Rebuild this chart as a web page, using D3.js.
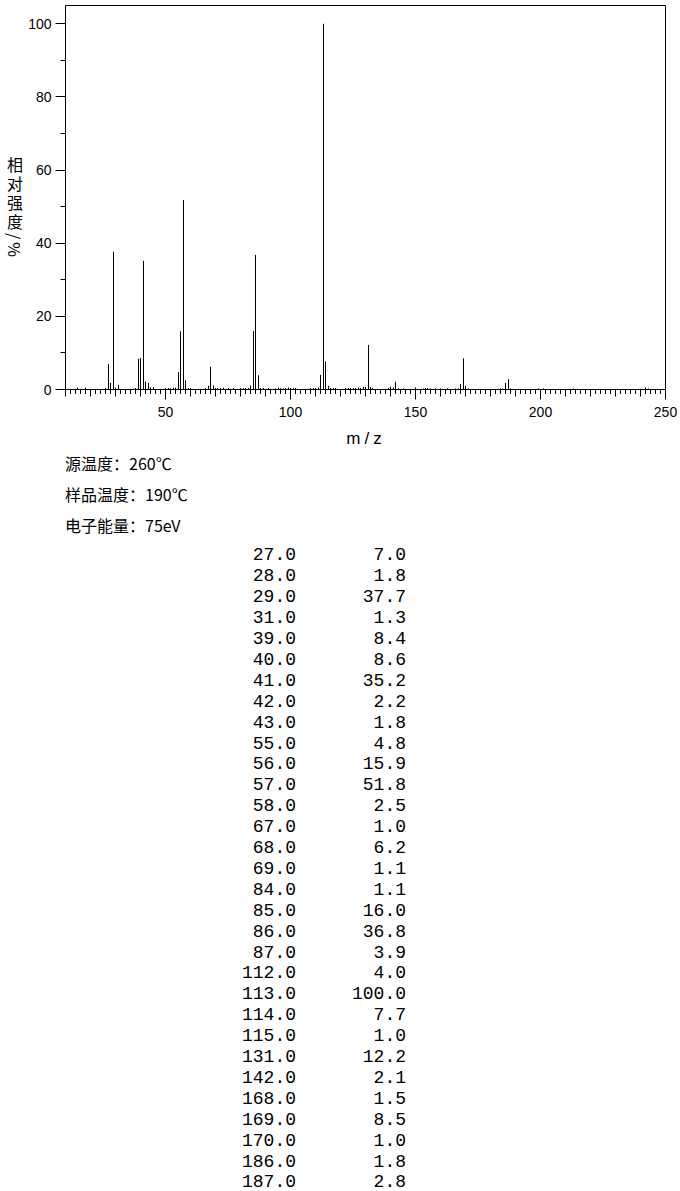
<!DOCTYPE html>
<html>
<head>
<meta charset="utf-8">
<script src="https://cdn.jsdelivr.net/npm/d3@7"></script>
<style>
  body { margin: 0; background: #fff; }
  svg { display: block; }
</style>
</head>
<body>
<script>
// DATA
var peakMz = [27, 28, 29, 31, 39, 40, 41, 42, 43, 55, 56, 57, 58, 67, 68, 69, 84, 85, 86, 87,
  112, 113, 114, 115, 131, 142, 168, 169, 170, 186, 187];
var peakInt = [7.0, 1.8, 37.7, 1.3, 8.4, 8.6, 35.2, 2.2, 1.8, 4.8, 15.9, 51.8, 2.5, 1.0, 6.2, 1.1, 1.1, 16.0, 36.8, 3.9,
  4.0, 100.0, 7.7, 1.0, 12.2, 2.1, 1.5, 8.5, 1.0, 1.8, 2.8];

// small peaks under 1% seen on the plot (not in the table)
var minorMz = [15, 18, 26, 30, 37, 38, 44, 45, 50, 51, 52, 53, 54, 59, 60, 66, 70, 71, 72, 73, 75, 77,
  80, 81, 82, 83, 88, 89, 91, 94, 95, 96, 97, 98, 99, 100, 101, 102, 108, 109, 110, 111, 116, 117, 118,
  122, 123, 124, 125, 126, 127, 128, 129, 130, 132, 133, 139, 140, 141, 143, 145, 150, 153, 154, 155,
  156, 158, 160, 163, 166, 167, 171, 184, 185, 188, 199, 201, 213, 242, 243];
var minorInt = [0.5, 0.5, 0.4, 0.5, 0.2, 0.4, 0.6, 0.6, 0.4, 0.4, 0.3, 0.5, 0.5, 0.4, 0.4, 0.4, 0.4, 0.4, 0.4, 0.5, 0.4, 0.4,
  0.4, 0.4, 0.4, 0.4, 0.4, 0.4, 0.4, 0.3, 0.55, 0.4, 0.3, 0.4, 0.55, 0.4, 0.4, 0.4, 0.4, 0.4, 0.4, 0.55, 0.4, 0.4, 0.4,
  0.4, 0.4, 0.4, 0.4, 0.4, 0.55, 0.4, 0.75, 0.75, 0.75, 0.4, 0.4, 0.75, 0.55, 0.3, 0.3, 0.55, 0.3, 0.4, 0.4,
  0.3, 0.3, 0.3, 0.3, 0.3, 0.3, 0.3, 0.3, 0.3, 0.3, 0.3, 0.3, 0.3, 0.55, 0.3];

var xTickLabels = [50, 100, 150, 200, 250];
var yTickLabels = [0, 20, 40, 60, 80, 100];
var infoLines = ["源温度：260℃", "样品温度：190℃", "电子能量：75eV"];

// svg
var svg = d3.select("body").append("svg")
    .attr("width", 680)
    .attr("height", 1191);

const plot = {left: 65.5, right: 665.5, top: 5.5, bottom: 389.5};

// scales
const x = d3.scaleLinear().domain([10, 250]).range([plot.left, plot.right]);
const y = d3.scaleLinear().domain([0, 105]).range([plot.bottom, plot.top]);

const sans = "'Liberation Sans', Arial, sans-serif";

// frame (left, top, right)
svg.append("path")
    .attr("d", "M" + plot.left + "," + plot.bottom + "V" + plot.top + "H" + plot.right + "V" + plot.bottom)
    .attr("fill", "none").attr("stroke", "#000").attr("stroke-width", 1);

// x axis: small ticks every 2, medium every 10, long every 50
const xAxis = svg.append("g").attr("transform", "translate(0," + plot.bottom + ")");
xAxis.append("path")
    .attr("d", "M" + (plot.left - 10) + ",0H" + plot.right)
    .attr("stroke", "#000").attr("shape-rendering", "crispEdges");
xAxis.selectAll("line").data(d3.range(10, 251, 2)).enter().append("line")
    .attr("x1", d => Math.round(x(d) - 0.5) + 0.5)
    .attr("x2", d => Math.round(x(d) - 0.5) + 0.5)
    .attr("y1", 0)
    .attr("y2", d => d % 50 === 0 ? 10 : (d % 10 === 0 ? 7 : 4.5))
    .attr("stroke", "#000");
xAxis.selectAll("text").data(xTickLabels).enter().append("text")
    .attr("x", d => x(d))
    .attr("y", 27)
    .attr("text-anchor", "middle")
    .attr("font-family", sans).attr("font-size", 14)
    .text(d => d);

svg.append("text")
    .attr("x", 366).attr("y", 444)
    .attr("text-anchor", "middle")
    .attr("font-family", sans).attr("font-size", 17)
    .attr("letter-spacing", 4)
    .text("m/z");

// y axis: long ticks every 20, short every 10
const yAxis = svg.append("g");
yAxis.selectAll("line").data(d3.range(0, 101, 10)).enter().append("line")
    .attr("x1", d => d % 20 === 0 ? plot.left - 10 : plot.left - 5)
    .attr("x2", plot.left)
    .attr("y1", d => Math.round(y(d) - 0.5) + 0.5)
    .attr("y2", d => Math.round(y(d) - 0.5) + 0.5)
    .attr("stroke", "#000");
yAxis.selectAll("text").data(yTickLabels).enter().append("text")
    .attr("x", plot.left - 14)
    .attr("y", d => y(d))
    .attr("dy", "0.36em")
    .attr("text-anchor", "end")
    .attr("font-family", sans).attr("font-size", 14)
    .text(d => d);

svg.append("text")
    .attr("x", 15).attr("y", 157)
    .attr("writing-mode", "vertical-rl")
    .attr("text-orientation", "mixed")
    .attr("letter-spacing", 3)
    .attr("font-family", "'Noto Sans CJK SC', sans-serif").attr("font-size", 16)
    .text("相对强度/%");

// peaks
const peaks = svg.append("g").attr("stroke", "#000").attr("stroke-width", 1);
var allPeaks = minorMz.map((m, i) => ({mz: m, v: minorInt[i]}))
    .concat(peakMz.map((m, i) => ({mz: m, v: peakInt[i]})));
peaks.selectAll("line").data(allPeaks).enter().append("line")
    .attr("x1", d => Math.round(x(d.mz) - 0.5) + 0.5)
    .attr("x2", d => Math.round(x(d.mz) - 0.5) + 0.5)
    .attr("y1", plot.bottom)
    .attr("y2", d => y(d.v));

// info lines
svg.append("g").selectAll("text").data(infoLines).enter().append("text")
    .attr("x", 65)
    .attr("y", (d, i) => 470 + i * 31)
    .attr("font-family", "'Noto Sans CJK SC', sans-serif").attr("font-size", 16)
    .text(d => d);

// peak table
const rowY = d3.scalePoint().domain(d3.range(peakMz.length)).range([554, 1181]);
const table = svg.append("g")
    .attr("font-family", "'Liberation Mono', 'Courier New', monospace")
    .attr("font-size", 18);
table.selectAll("text.mz").data(peakMz).enter().append("text")
    .attr("class", "mz")
    .attr("x", 296)
    .attr("y", (d, i) => rowY(i))
    .attr("dy", "0.36em")
    .attr("text-anchor", "end")
    .text(d => d.toFixed(1));
table.selectAll("text.int").data(peakInt).enter().append("text")
    .attr("class", "int")
    .attr("x", 406)
    .attr("y", (d, i) => rowY(i))
    .attr("dy", "0.36em")
    .attr("text-anchor", "end")
    .text(d => d.toFixed(1));
</script>
</body>
</html>
